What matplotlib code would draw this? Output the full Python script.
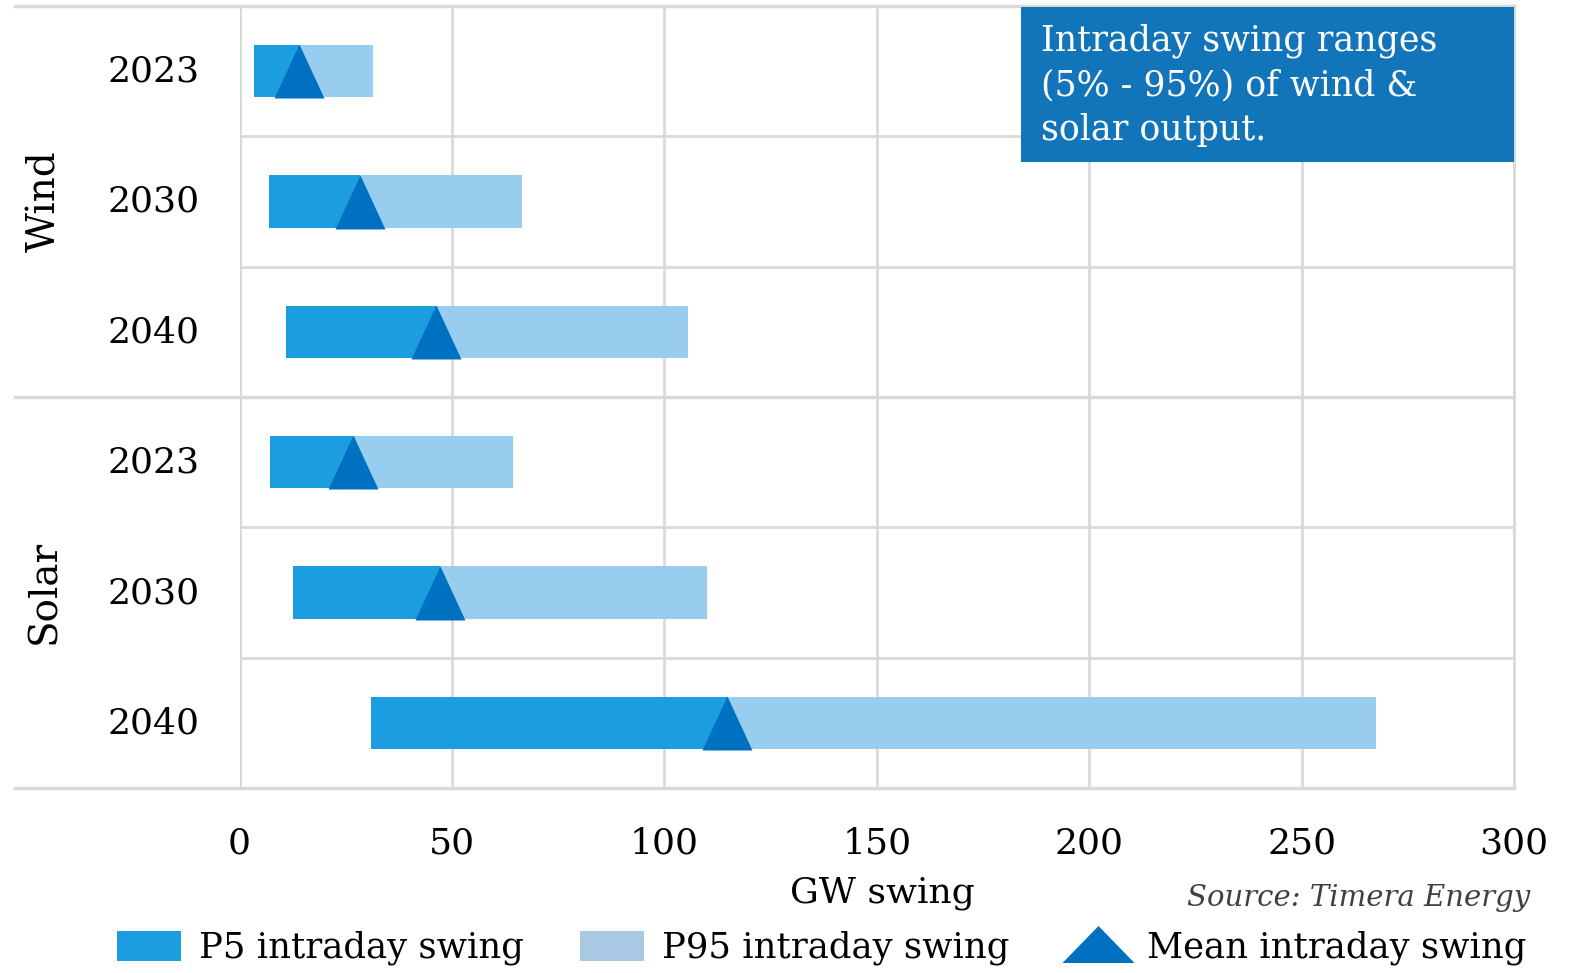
import matplotlib
matplotlib.use("Agg")
import matplotlib.pyplot as plt
import matplotlib.transforms as mtransforms
from matplotlib.patches import Patch, Rectangle
from matplotlib.lines import Line2D
import numpy as np

# data (GW)
groups = ["Wind", "Solar"]
years = ["2023", "2030", "2040", "2023", "2030", "2040"]
p5 = [3.3, 6.9, 11.0, 7.2, 12.6, 30.9]
mean = [14.0, 28.3, 46.2, 26.7, 47.3, 114.7]
p95 = [31.4, 66.5, 105.6, 64.3, 110.1, 267.4]
xticks = [0, 50, 100, 150, 200, 250, 300]

c_p5 = "#1b9ddf"
c_p95 = "#99cdf0"
c_p95_leg = "#a9c8e4"
c_mean = "#0070c0"
c_box = "#1275ba"
c_grid = "#d9d9d9"

plt.rcParams["font.family"] = ["DejaVu Serif"]
FS = 26

W, H = 1578, 973
fig = plt.figure(figsize=(W / 100, H / 100), dpi=100)
ax = fig.add_axes([239.5 / W, 1 - 788 / H, (1514 - 239.5) / W, (788 - 6) / H])

y = np.arange(len(years))
p5 = np.array(p5)
mean = np.array(mean)
p95 = np.array(p95)

ax.barh(y, mean - p5, left=p5, height=0.4, color=c_p5, zorder=3)
ax.barh(y, p95 - mean, left=mean, height=0.4, color=c_p95, zorder=3)

tri = [(-25, -27), (25, -27), (0, 27)]
ax.plot(mean, y, linestyle="none", marker=tri, markersize=54 * 0.72,
        color=c_mean, markeredgewidth=0, zorder=4)

ax.set_xlim(0, 300)
ax.set_ylim(5.5, -0.5)
ax.set_xticks(xticks)
ax.set_xticklabels([str(v) for v in xticks], fontsize=FS)
ax.set_yticks(y)
ax.set_yticklabels(years, fontsize=FS)
ax.set_yticks(np.arange(0.5, 5, 1), minor=True)
ax.tick_params(axis="both", which="both", length=0)
ax.tick_params(axis="y", pad=29)
ax.tick_params(axis="x", pad=28)
# nudge year labels up a little
lift = mtransforms.ScaledTranslation(0, 3 / 100, fig.dpi_scale_trans)
for lab in ax.get_yticklabels():
    lab.set_transform(lab.get_transform() + lift)

ax.grid(True, axis="x", which="major", color=c_grid, linewidth=2, zorder=0)
ax.grid(True, axis="y", which="minor", color=c_grid, linewidth=2, zorder=0)
for s in ax.spines.values():
    s.set_color(c_grid)
    s.set_linewidth(2)
ax.spines["left"].set_visible(False)
ax.axvline(0, color=c_grid, linewidth=2, zorder=0)

# group separators running under the year labels
for yy in [-0.5, 2.5, 5.5]:
    ax.axhline(yy, xmin=-(239.5 - 15) / (1514 - 239.5), xmax=1,
               color=c_grid, linewidth=2.5, clip_on=False, zorder=1)

fig.text(45 / W, 1 - 201 / H, groups[0], rotation=90, ha="center", va="center", fontsize=28)
fig.text(45 / W, 1 - 592 / H, groups[1], rotation=90, ha="center", va="center", fontsize=28)

fig.text(882 / W, 1 - 893 / H, "GW swing", ha="center", va="center", fontsize=FS)
fig.text(1530 / W, 1 - 898 / H, "Source: Timera Energy", ha="right", va="center",
         fontsize=21, style="italic", color="#404040")

# annotation box
fig.add_artist(Rectangle((1021 / W, 1 - 162 / H), (1514 - 1021) / W, (162 - 7) / H,
                         transform=fig.transFigure, facecolor=c_box, edgecolor="none", zorder=5))
fig.text(1041 / W, 1 - 85 / H, "Intraday swing ranges\n(5% - 95%) of wind &\nsolar output.",
         ha="left", va="center", color="white", fontsize=25, linespacing=1.38, zorder=6)

handles = [
    Patch(facecolor=c_p5, edgecolor="none", label="P5 intraday swing"),
    Patch(facecolor=c_p95_leg, edgecolor="none", label="P95 intraday swing"),
    Line2D([], [], linestyle="none", marker=[(-36, -18.5), (36, -18.5), (0, 18.5)],
           markersize=72 * 0.72, color=c_mean, markeredgewidth=0, label="Mean intraday swing"),
]
fig.legend(handles=handles, loc="center", bbox_to_anchor=(822 / W, 1 - 948 / H), ncol=3,
           frameon=False, fontsize=25.5, handlelength=1.8, handleheight=0.95,
           handletextpad=0.5, columnspacing=1.6, borderpad=0, borderaxespad=0)

fig.savefig("out.png", dpi=100)
